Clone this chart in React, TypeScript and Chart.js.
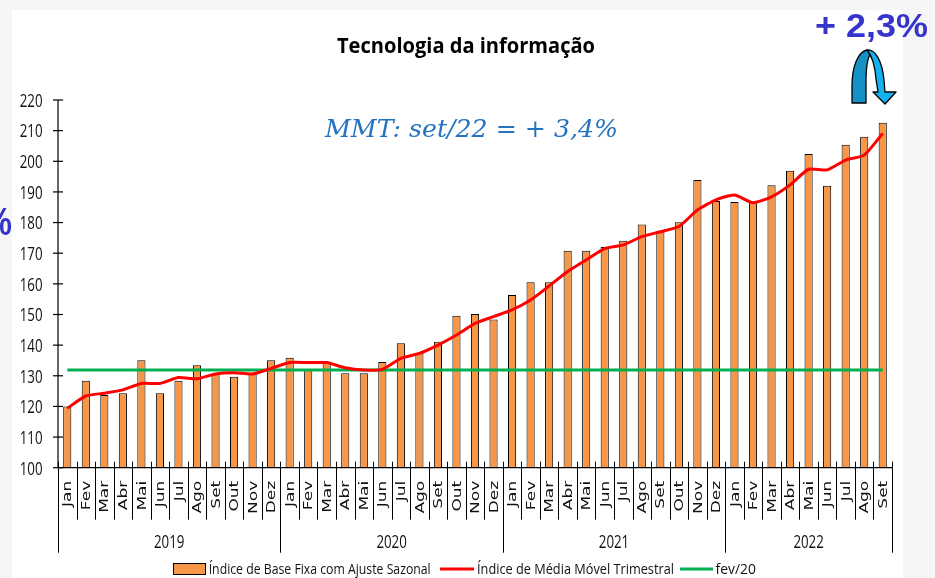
import React, { useEffect, useRef } from "react";
import { Chart, registerables } from "chart.js";

Chart.register(...registerables);

const months = ["Jan", "Fev", "Mar", "Abr", "Mai", "Jun", "Jul", "Ago", "Set", "Out", "Nov", "Dez"];
const years = ["2019", "2020", "2021", "2022"];
const monthsPerYear = [12, 12, 12, 9];

const baseFixa2019 = [120.0, 128.4, 123.7, 124.3, 135.1, 124.3, 128.4, 133.4, 130.8, 129.7, 131.0, 135.1];
const baseFixa2020 = [135.9, 131.9, 134.6, 130.8, 130.8, 134.5, 140.6, 137.5, 141.1, 149.6, 150.2, 148.4];
const baseFixa2021 = [156.4, 160.5, 160.5, 170.8, 170.8, 172.0, 174.1, 179.4, 177.3, 180.1, 193.9, 187.0];
const baseFixa2022 = [186.7, 186.6, 192.2, 196.9, 202.4, 192.0, 205.4, 208.0, 212.6];

const mmt2019 = [119.4, 123.4, 124.3, 125.4, 127.5, 127.5, 129.4, 129.0, 130.6, 131.0, 130.6, 132.4];
const mmt2020 = [134.3, 134.3, 134.3, 132.6, 131.9, 132.1, 135.7, 137.3, 140.0, 143.3, 147.1, 149.3];
const mmt2021 = [151.5, 154.7, 159.3, 164.0, 167.8, 171.5, 172.7, 175.4, 177.0, 178.7, 184.1, 187.4];
const mmt2022 = [189.0, 186.5, 188.4, 192.3, 197.4, 197.2, 200.4, 202.0, 209.1];

const fev20Level = 131.9;

const yTicksMin = 100;
const yTicksMax = 220;
const yTicksStep = 10;

const title = "Tecnologia da informação";
const mmtNote = "MMT: set/22 = + 3,4%";
const monthlyNote = "+ 2,3%";
const legendLabels = [
  "Índice de Base Fixa com Ajuste Sazonal",
  "Índice de Média Móvel Trimestral",
  "fev/20",
];

const categories: string[] = [];
years.forEach((y, yi) => {
  for (let m = 0; m < monthsPerYear[yi]; m++) categories.push(months[m] + " " + y);
});
const baseFixa = [...baseFixa2019, ...baseFixa2020, ...baseFixa2021, ...baseFixa2022];
const mmt = [...mmt2019, ...mmt2020, ...mmt2021, ...mmt2022];

const ORANGE = "#F79646";
const RED = "#FF0000";
const GREEN = "#00B050";
const SANS = '"Open Sans", "Noto Sans", sans-serif';

function fitText(
  ctx: CanvasRenderingContext2D,
  text: string,
  x: number,
  y: number,
  font: string,
  color: string,
  align: CanvasTextAlign,
  opts: { width?: number; sx?: number }
) {
  ctx.save();
  ctx.font = font;
  ctx.fillStyle = color;
  ctx.textBaseline = "alphabetic";
  ctx.textAlign = align;
  const w = ctx.measureText(text).width;
  const sx = opts.width ? opts.width / w : opts.sx ?? 1;
  ctx.translate(x, y);
  ctx.scale(sx, 1);
  ctx.fillText(text, 0, 0);
  ctx.restore();
}

const decorPlugin = {
  id: "decor",
  beforeDraw(chart: any) {
    const ctx: CanvasRenderingContext2D = chart.ctx;
    ctx.save();
    ctx.fillStyle = "#f6f6f6";
    ctx.fillRect(0, 0, chart.width, chart.height);
    ctx.fillStyle = "#ffffff";
    ctx.fillRect(12, 10, 891, chart.height - 10);
    ctx.restore();
  },
  afterDatasetsDraw(chart: any) {
    const ctx: CanvasRenderingContext2D = chart.ctx;
    const xs = chart.scales.x;
    const ys = chart.scales.y;
    const area = chart.chartArea;
    const n = categories.length;
    const step = n > 1 ? xs.getPixelForValue(1) - xs.getPixelForValue(0) : area.right - area.left;
    const boundary = (i: number) => xs.getPixelForValue(i) - step / 2;

    ctx.save();
    ctx.strokeStyle = "#000";
    ctx.lineWidth = 1.2;
    ctx.beginPath();
    ctx.moveTo(area.left, area.top);
    ctx.lineTo(area.left, area.bottom);
    ctx.stroke();
    ctx.beginPath();
    ctx.moveTo(area.left, area.bottom);
    ctx.lineTo(area.right, area.bottom);
    ctx.stroke();

    ys.ticks.forEach((t: any) => {
      const py = ys.getPixelForValue(t.value);
      ctx.beginPath();
      ctx.moveTo(area.left - 5, py);
      ctx.lineTo(area.left + 5, py);
      ctx.stroke();
      fitText(ctx, String(t.value), area.left - 15.5, py + 6.8, `19px ${SANS}`, "#111", "right", { sx: 0.7 });
    });

    const yearStarts: number[] = [];
    let acc = 0;
    monthsPerYear.forEach((c) => {
      yearStarts.push(acc);
      acc += c;
    });
    yearStarts.push(acc);
    ctx.lineWidth = 1;
    for (let i = 0; i <= n; i++) {
      const bx = Math.round(boundary(i)) + 0.5;
      const isYear = yearStarts.includes(i);
      ctx.beginPath();
      ctx.moveTo(bx, area.bottom - 6);
      ctx.lineTo(bx, isYear ? area.bottom + 85 : area.bottom + 52);
      ctx.stroke();
    }

    categories.forEach((c, i) => {
      const m = c.split(" ")[0];
      const cx = xs.getPixelForValue(i) + 1;
      ctx.save();
      ctx.font = `12px "DejaVu Sans", sans-serif`;
      ctx.fillStyle = "#111";
      ctx.translate(cx, area.bottom + 13);
      ctx.rotate(-Math.PI / 2);
      ctx.scale(1.42, 1);
      ctx.textAlign = "right";
      ctx.textBaseline = "middle";
      ctx.fillText(m, 0, 0);
      ctx.restore();
    });

    years.forEach((y, yi) => {
      const cx = (boundary(yearStarts[yi]) + boundary(yearStarts[yi + 1])) / 2;
      fitText(ctx, y, cx, area.bottom + 80.5, `19px ${SANS}`, "#111", "center", { sx: 0.7 });
    });

    fitText(ctx, title, 466, 53.3, `bold 22px ${SANS}`, "#000", "center", { width: 258 });
    fitText(ctx, mmtNote, 325, 136.7, `italic 25px "DejaVu Serif", serif`, "#2572C0", "left", { width: 293 });
    fitText(ctx, monthlyNote, 815, 36.7, `bold 33px "Liberation Sans", Arial, sans-serif`, "#3535CC", "left", { width: 113 });
    fitText(ctx, "%", 12, 235, `bold 38px "Liberation Sans", Arial, sans-serif`, "#3535CC", "right", { sx: 0.85 });

    const ly = 569;
    ctx.fillStyle = ORANGE;
    ctx.fillRect(173.5, 563.5, 32, 11);
    ctx.strokeStyle = "#000";
    ctx.lineWidth = 1;
    ctx.strokeRect(173.5, 563.5, 32, 11);
    fitText(ctx, legendLabels[0], 208.7, 573.5, `14px ${SANS}`, "#111", "left", { width: 222 });
    ctx.strokeStyle = RED;
    ctx.lineWidth = 3;
    ctx.beginPath();
    ctx.moveTo(440, ly);
    ctx.lineTo(474, ly);
    ctx.stroke();
    fitText(ctx, legendLabels[1], 477, 573.5, `14px ${SANS}`, "#111", "left", { width: 197 });
    ctx.strokeStyle = GREEN;
    ctx.beginPath();
    ctx.moveTo(680, ly);
    ctx.lineTo(713, ly);
    ctx.stroke();
    fitText(ctx, legendLabels[2], 715.6, 573.5, `14px ${SANS}`, "#111", "left", { width: 40.4 });
    ctx.restore();
  },
};

export default function App() {
  const ref = useRef<HTMLCanvasElement | null>(null);

  useEffect(() => {
    if (!ref.current) return;
    const chart = new Chart(ref.current, {
      type: "bar",
      data: {
        labels: categories,
        datasets: [
          {
            type: "line",
            label: legendLabels[1],
            data: mmt,
            borderColor: RED,
            backgroundColor: RED,
            borderWidth: 3,
            pointRadius: 0,
            tension: 0.2,
            order: 0,
          } as any,
          {
            type: "line",
            label: legendLabels[2],
            data: [
              { x: categories[0], y: fev20Level },
              { x: categories[categories.length - 1], y: fev20Level },
            ],
            borderColor: GREEN,
            backgroundColor: GREEN,
            borderWidth: 3,
            pointRadius: 0,
            order: 1,
          } as any,
          {
            type: "bar",
            label: legendLabels[0],
            data: baseFixa,
            backgroundColor: ORANGE,
            borderColor: "#000",
            borderWidth: 1,
            barPercentage: 0.44,
            categoryPercentage: 1,
            order: 2,
          } as any,
        ],
      },
      options: {
        animation: false,
        responsive: false,
        devicePixelRatio: 1,
        layout: { padding: { left: 0, right: 43, top: 100, bottom: 0 } },
        plugins: {
          legend: { display: false },
          title: { display: false },
          tooltip: { enabled: false },
        },
        scales: {
          x: {
            type: "category",
            offset: true,
            grid: { display: false },
            border: { display: false },
            ticks: { display: false },
            afterFit: (s: any) => {
              s.height = 110.3;
            },
          },
          y: {
            min: yTicksMin,
            max: yTicksMax,
            grid: { display: false },
            border: { display: false },
            ticks: { display: false, stepSize: yTicksStep },
            afterFit: (s: any) => {
              s.width = 58;
            },
          },
        },
      } as any,
      plugins: [decorPlugin],
    });
    return () => chart.destroy();
  }, []);

  return (
    <div
      style={{
        position: "fixed",
        left: 0,
        top: 0,
        width: 935,
        height: 578,
        overflow: "hidden",
        background: "#f6f6f6",
      }}
    >
      <canvas ref={ref} width={935} height={578} style={{ position: "absolute", left: 0, top: 0, width: 935, height: 578 }} />
      <svg
        width={935}
        height={578}
        style={{ position: "absolute", left: 0, top: 0, pointerEvents: "none" }}
      >
        <path
          d="M852 103 L866 103 L866 82 C866 68 867 58 871 53 L867 50 C858 52 852 66 852 86 Z"
          fill="#1591C6"
          stroke="#000"
          strokeWidth={1.3}
          strokeLinejoin="round"
        />
        <path
          d="M867 50 C875 49 882 60 884 80 L885 92 L896 92 L885 104 L873 92 L878 92 L876 79 C875 66 873 57 867 50 Z"
          fill="#13B2EE"
          stroke="#000"
          strokeWidth={1.3}
          strokeLinejoin="round"
        />
      </svg>
    </div>
  );
}
